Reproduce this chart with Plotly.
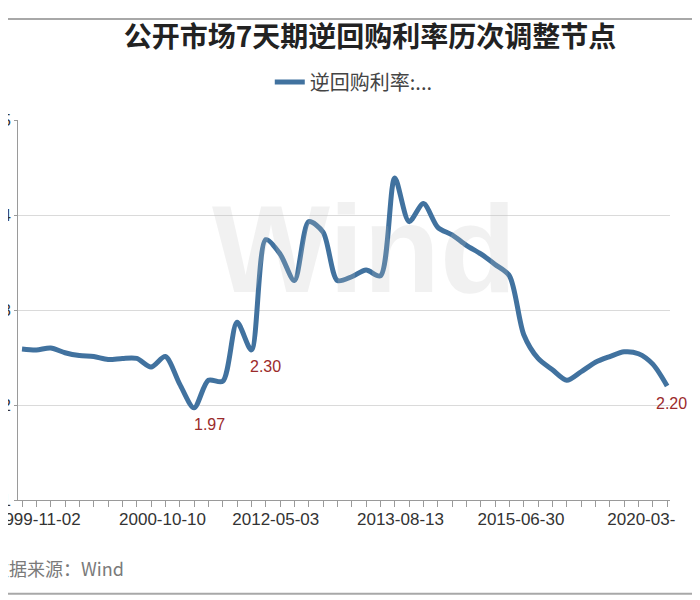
import plotly.graph_objects as go

# ---- data ----
rates = [2.59, 2.58, 2.60, 2.55, 2.52, 2.51, 2.48, 2.49, 2.49, 2.40,
         2.51, 2.22, 1.97, 2.26, 2.25, 2.87, 2.58, 3.74, 3.59, 3.31,
         3.93, 3.82, 3.31, 3.35, 3.42, 3.36, 4.39, 3.93, 4.12, 3.87,
         3.79, 3.68, 3.59, 3.48, 3.36, 2.74, 2.49, 2.37, 2.26, 2.35,
         2.45, 2.51, 2.56, 2.54, 2.43, 2.20]
node_index = list(range(len(rates)))

tick_labels = ["1999-11-02", "2000-10-10", "2012-05-03", "2013-08-13", "2015-06-30", "2020-03-"]
tick_positions = [1.1, 9.8, 17.7, 26.4, 34.8, 43.2]

label_points = [12, 16, 45]
label_texts = ["1.97", "2.30", "2.20"]
label_xshift = [15, 14, 4]

y_ticks = [1, 2, 3, 4, 5]

line_color = "#41729f"

fig = go.Figure()
fig.add_trace(go.Scatter(
    x=node_index, y=rates, mode="lines", name="逆回购利率:...",
    line=dict(color=line_color, width=5, shape="spline", smoothing=0.8),
    showlegend=True,
))

annotations = []
# watermark
annotations.append(dict(
    text="<b>Wind</b>", x=0.53, y=0.85, xref="paper", yref="paper",
    showarrow=False, font=dict(size=125, color="rgba(190,190,190,0.22)", family="Liberation Sans"),
))
for idx, txt, dx in zip(label_points, label_texts, label_xshift):
    annotations.append(dict(
        x=node_index[idx], y=rates[idx], text=txt, showarrow=False,
        xshift=dx, yshift=-17, font=dict(size=16, color="#9b2b2b", family="Liberation Sans"),
    ))
annotations.append(dict(
    text="数据来源：Wind", x=-0.044, y=-0.179, xref="paper", yref="paper",
    xanchor="left", yanchor="middle", showarrow=False,
    font=dict(size=18, color="#7a7a7a", family="Noto Sans CJK SC"),
))

fig.update_layout(
    width=700, height=600,
    paper_bgcolor="white", plot_bgcolor="white",
    margin=dict(l=10, r=38, t=112, b=108),
    title=dict(text="<b>公开市场7天期逆回购利率历次调整节点</b>", x=0.517, y=0.952,
               xanchor="center", yanchor="middle", automargin=False,
               font=dict(size=28, color="#222222", family="Noto Sans CJK SC")),
    legend=dict(orientation="h", x=0.515, y=1.1, xanchor="center", yanchor="middle",
                font=dict(size=20, color="#444444", family="Noto Sans CJK SC"),
                bgcolor="rgba(0,0,0,0)"),
    annotations=annotations,
    shapes=[
        dict(type="line", xref="paper", yref="paper", x0=-0.03, x1=1.07, y0=1.266, y1=1.266,
             line=dict(color="#a8a8a8", width=2)),
        dict(type="line", xref="paper", yref="paper", x0=-0.03, x1=1.07, y0=-0.247, y1=-0.247,
             line=dict(color="#a8a8a8", width=2)),
    ],
)

fig.update_xaxes(
    range=[-0.28, 45.2], tickmode="array", tickvals=tick_positions, ticktext=tick_labels,
    ticks="", showgrid=False, zeroline=False, automargin=False, ticklabeloverflow="allow",
    ticklabelstandoff=4,
    showline=True, linecolor="#9a9a9a", linewidth=1,
    tickfont=dict(size=17, color="#333333", family="Liberation Sans"),
    minor=dict(ticks="outside", dtick=1, tick0=0, ticklen=6, tickcolor="#9a9a9a", showgrid=False),
)
fig.update_yaxes(
    range=[1, 5], tickmode="array", tickvals=y_ticks, ticks="outside", ticklen=3,
    tickcolor="#9a9a9a", showline=True, linecolor="#9a9a9a", linewidth=1,
    showgrid=True, gridcolor="#dadada", gridwidth=1, zeroline=False, automargin=False,
    ticklabeloverflow="allow",
    tickfont=dict(size=16, color="#333333", family="Liberation Sans"),
)

fig.write_html("out.html")
